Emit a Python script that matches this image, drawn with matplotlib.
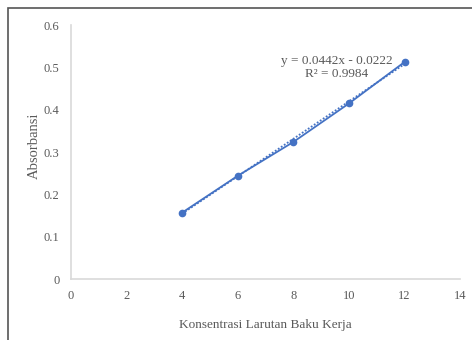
import numpy as np
import matplotlib
matplotlib.use("Agg")
import matplotlib.pyplot as plt
from matplotlib.patches import Rectangle

# calibration data
konsentrasi = [4, 6, 8, 10, 12]
absorbansi = [0.157, 0.244, 0.324, 0.415, 0.513]
x_ticks = [0, 2, 4, 6, 8, 10, 12, 14]
y_ticks = [0, 0.1, 0.2, 0.3, 0.4, 0.5, 0.6]
slope = 0.0442
intercept = -0.0222
r2 = 0.9984

blue = '#4472C4'
grey = '#595959'

plt.rcParams['font.family'] = ['Liberation Serif', 'DejaVu Serif']

fig = plt.figure(figsize=(4.72, 3.40), dpi=100)
ax = fig.add_axes([0.150, 0.179, 0.825, 0.747])

# data line
ax.plot(konsentrasi, absorbansi, color=blue, lw=1.3, marker='o', ms=4.5, zorder=3)
# linear trendline
xt = np.array([konsentrasi[0], konsentrasi[-1]])
ax.plot(xt, slope * xt + intercept, color=blue, lw=1.3, ls=(0, (1, 1)), zorder=2)

ax.text(9.57, 0.50, 'y = %.4fx - %.4f\nR² = %.4f' % (slope, -intercept, r2),
        ha='center', va='center', fontsize=9.5, color=grey, linespacing=1.15)

ax.set_xlim(0, 14)
ax.set_ylim(0, 0.6)
ax.set_xticks(x_ticks)
ax.set_yticks(y_ticks)
ax.set_yticklabels(['0', '0.1', '0.2', '0.3', '0.4', '0.5', '0.6'])
ax.tick_params(length=0, labelsize=9, colors=grey)
ax.tick_params(axis='y', pad=8)
ax.tick_params(axis='x', pad=8)
for s in ['top', 'right']:
    ax.spines[s].set_visible(False)
for s in ['left', 'bottom']:
    ax.spines[s].set_color('#d9d9d9')
    ax.spines[s].set_linewidth(1.2)

ax.set_xlabel('Konsentrasi Larutan Baku Kerja', fontsize=9.5, color=grey, labelpad=12)
ax.set_ylabel('Absorbansi', fontsize=10.5, color=grey)
ax.yaxis.set_label_coords(-0.077, 0.525)

# outer chart border
fig.patches.append(Rectangle((8 / 472, -0.1), 1.2, 1.1 - 8 / 340, transform=fig.transFigure,
                             fill=False, edgecolor='#555555', lw=1.2))

fig.savefig('out.png', dpi=100)
